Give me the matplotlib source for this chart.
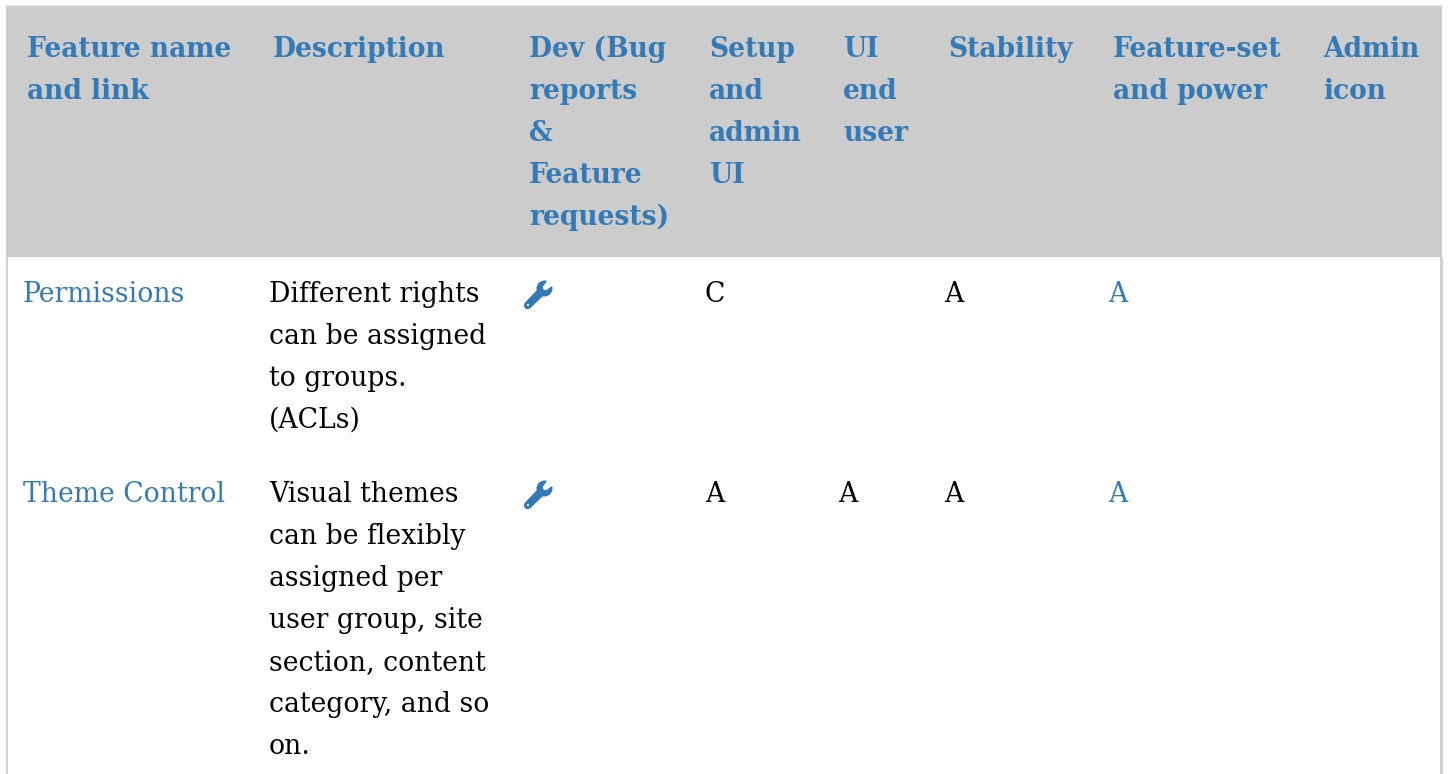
import matplotlib
matplotlib.use('Agg')
import matplotlib.pyplot as plt
from matplotlib.patches import Rectangle, Circle, Polygon

W, H = 1448, 774
AZUL = '#337ab7'
GRIS = '#cccccc'
BORDE = '#d2d2d2'

# Textos de la tabla
cabeceras = [
    ['Feature name', 'and link'],
    ['Description'],
    ['Dev (Bug', 'reports', '&', 'Feature', 'requests)'],
    ['Setup', 'and', 'admin', 'UI'],
    ['UI', 'end', 'user'],
    ['Stability'],
    ['Feature-set', 'and power'],
    ['Admin', 'icon'],
]
x_cabecera = [27, 273, 529, 709, 843, 948, 1113, 1323]

filas = ['Permissions', 'Theme Control']
descripciones = [
    ['Different rights', 'can be assigned', 'to groups.', '(ACLs)'],
    ['Visual themes', 'can be flexibly', 'assigned per', 'user group, site',
     'section, content', 'category, and so', 'on.'],
]
setup = ['C', 'A']
ui_usuario = ['', 'A']
estabilidad = ['A', 'A']
potencia = ['A', 'A']

y_filas = [302, 502]
x_nombre, x_desc, x_icono, x_setup, x_ui, x_estab, x_pot = 23, 269, 539, 705, 838, 944, 1108
ALTO_LINEA = 42
TAM = 19.15
TAM_CABECERA = 19.1

fig = plt.figure(figsize=(W / 100, H / 100), dpi=100)
ax = fig.add_axes([0, 0, 1, 1])
ax.set_xlim(0, W)
ax.set_ylim(H, 0)
ax.axis('off')


def texto(x, y, s, color='black', negrita=False):
    ax.text(x, y, s, color=color, fontsize=TAM_CABECERA if negrita else TAM,
            family='DejaVu Serif', fontweight='bold' if negrita else 'normal',
            va='baseline', ha='left')


def llave(cx, cy):
    # Icono de llave: mango, cabeza y muesca
    ax.add_patch(Polygon([(cx - 14.5, cy + 8), (cx - 9, cy + 13.5), (cx + 5, cy + 0), (cx - 1, cy - 6)],
                         closed=True, color=AZUL, lw=0, zorder=3))
    ax.add_patch(Circle((cx - 11.5, cy + 10.5), 3.6, color=AZUL, lw=0, zorder=3))
    ax.add_patch(Circle((cx + 5.5, cy - 6.5), 8, color=AZUL, lw=0, zorder=3))
    ax.add_patch(Circle((cx + 6.5, cy - 7.5), 2.6, color='white', lw=0, zorder=4))
    ax.add_patch(Polygon([(cx + 4.7, cy - 9.3), (cx + 8.3, cy - 5.7), (cx + 16, cy - 11), (cx + 10, cy - 17)],
                         closed=True, color='white', lw=0, zorder=4))
    ax.add_patch(Circle((cx - 11, cy + 10), 1.0, color='white', lw=0, zorder=5))


# Fondo y bordes
ax.add_patch(Rectangle((5, 5), 1438, 1.5, color='#e8e8e8', lw=0))
ax.add_patch(Rectangle((5.5, 6), 1436.5, 251, color=GRIS, lw=0))
ax.add_patch(Rectangle((5.5, 257), 2.5, H - 257, color=BORDE, lw=0))
ax.add_patch(Rectangle((1440, 257), 2.5, H - 257, color=BORDE, lw=0))

# Cabecera
for x, lineas in zip(x_cabecera, cabeceras):
    for i, s in enumerate(lineas):
        texto(x, 57 + i * ALTO_LINEA, s, AZUL, True)

# Filas
for i, y in enumerate(y_filas):
    texto(x_nombre, y, filas[i], AZUL)
    for j, s in enumerate(descripciones[i]):
        texto(x_desc, y + j * ALTO_LINEA, s)
    llave(x_icono, y - 7)
    texto(x_setup, y, setup[i])
    texto(x_ui, y, ui_usuario[i])
    texto(x_estab, y, estabilidad[i])
    texto(x_pot, y, potencia[i], AZUL)

fig.savefig('out.png', dpi=100, facecolor='white')
